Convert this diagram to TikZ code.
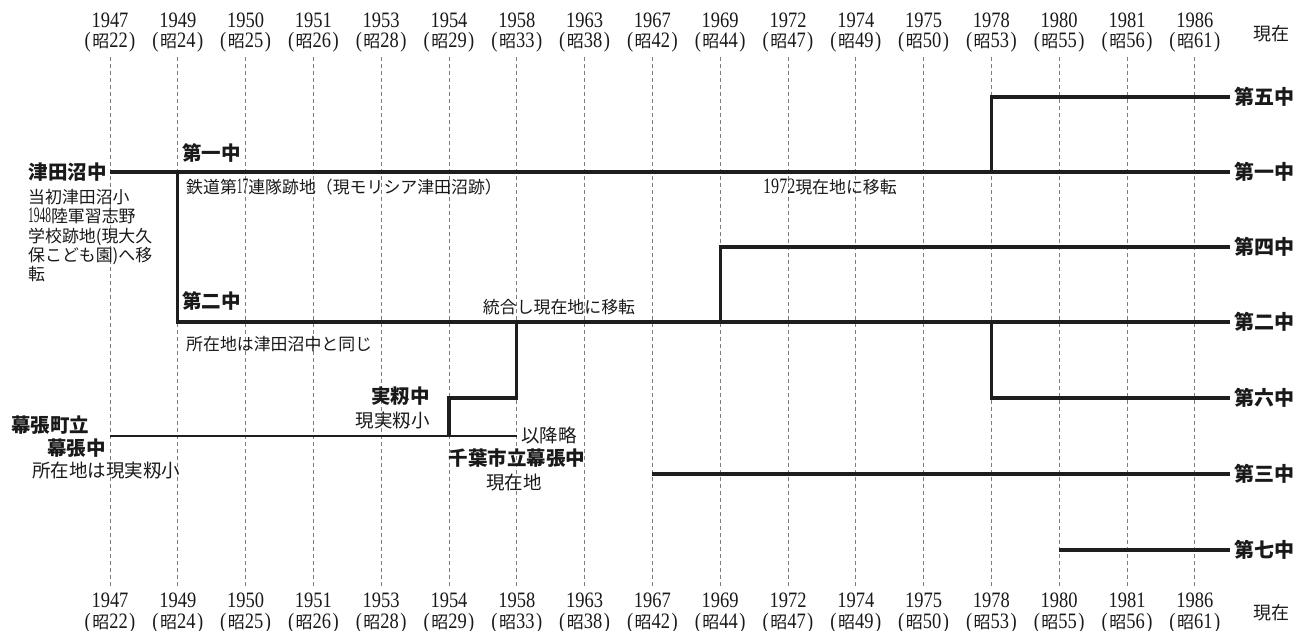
\documentclass[tikz,border=0pt]{standalone}
\usepackage{fontspec}
\setmainfont{Noto Sans CJK JP}
\newfontfamily\yrf{Liberation Serif}[FakeStretch=0.84]
\newfontfamily\nf{Liberation Serif}[FakeStretch=0.73]
\newfontfamily\nfc{Liberation Serif}[FakeStretch=0.52]
\definecolor{linec}{RGB}{30,30,30}
\definecolor{txtc}{RGB}{25,25,25}
\definecolor{gridc}{RGB}{125,125,125}
\newcommand{\mysho}[1]{{\yrf(}\hspace{1.5pt}{\rmfamily\fontsize{17}{16}\selectfont 昭}{\yrf #1}\hspace{1.5pt}{\yrf)}}
\newcommand{\mydg}[1]{{\nf\fontsize{22}{17}\selectfont #1}}
\newcommand{\mydgc}[1]{{\nfc\fontsize{22}{17}\selectfont #1}}
\tikzset{
  lk/.style={line width=3.2pt, draw=linec},
  lkthin/.style={line width=2.4pt, draw=linec},
  gridl/.style={draw=gridc, line width=0.7pt, dash pattern=on 4pt off 3pt},
  bl/.style={font=\fontsize{19.5}{20}\selectfont\bfseries, text=txtc, inner sep=0pt},
  rl/.style={font=\fontsize{20}{20}\selectfont\bfseries, text=txtc, anchor=west, inner xsep=4pt, inner ysep=0pt},
  sm/.style={font=\fontsize{16.9}{19.3}\selectfont, text=txtc, inner sep=0pt},
  md/.style={font=\fontsize{18.5}{18.5}\selectfont, text=txtc, inner sep=0pt},
  yr/.style={font=\yrf\fontsize{22}{22}\selectfont, text=txtc, inner sep=0pt},
  now/.style={font=\fontsize{18}{18}\selectfont, text=txtc, inner sep=0pt},
}
\begin{document}
\begin{tikzpicture}[x=1pt,y=-1pt]
\fill[white] (0,0) rectangle (1311,630);
\useasboundingbox (0,0) rectangle (1311,630);

% grid
\foreach \i in {1,...,17}{
  \draw[gridl] ({110+(\i-1)*67.8},57) -- ({110+(\i-1)*67.8},588);
}

% year headers
\foreach \yy/\sh [count=\i] in {1947/22,1949/24,1950/25,1951/26,1953/28,1954/29,1958/33,1963/38,1967/42,1969/44,1972/47,1974/49,1975/50,1978/53,1980/55,1981/56,1986/61}{
  \node[yr] (ty\i) at ({110+(\i-1)*67.8},20.5) {\yy};
  \node[yr] (tz\i) at ({110+(\i-1)*67.8},42) {\mysho{\sh}};
  \node[yr] (by\i) at ({110+(\i-1)*67.8},600.5) {\yy};
  \node[yr] (bz\i) at ({110+(\i-1)*67.8},623) {\mysho{\sh}};
}
\node[now] (nowt) at (1271,34) {現在};
\node[now] (nowb) at (1271,613) {現在};

% right labels
\node[rl] (r5) at (1230,97) {第五中};
\node[rl] (r1) at (1230,172) {第一中};
\node[rl] (r4) at (1230,247) {第四中};
\node[rl] (r2) at (1230,322) {第二中};
\node[rl] (r6) at (1230,398) {第六中};
\node[rl] (r3) at (1230,474) {第三中};
\node[rl] (r7) at (1230,550) {第七中};

% left label
\node[bl, anchor=east, inner xsep=3pt] (tsuda) at (110,172) {津田沼中};

% junction coordinates
\coordinate (a49) at (177.8,172);
\coordinate (b49) at (177.8,322);
\coordinate (a78) at (991.4,172);
\coordinate (c78) at (991.4,97);
\coordinate (b69) at (720.2,322);
\coordinate (c69) at (720.2,247);
\coordinate (b78) at (991.4,322);
\coordinate (d78) at (991.4,398);
\coordinate (s67) at (652.4,474);
\coordinate (s80) at (1059.2,550);
\coordinate (mk0) at (110,436);
\coordinate (mkend) at (516.8,436);
\coordinate (m54) at (449,436);
\coordinate (n54) at (449,398);
\coordinate (n58) at (516.8,398);
\coordinate (b58) at (516.8,322);

% connectors
\draw[lk] (tsuda.east) -- (r1.west);
\draw[lk] (a49) -- (b49) -- (r2.west);
\draw[lk] (a78) -- (c78) -- (r5.west);
\draw[lk] (b69) -- (c69) -- (r4.west);
\draw[lk] (b78) -- (d78) -- (r6.west);
\draw[lk] (s67) -- (r3.west);
\draw[lk] (s80) -- (r7.west);
\draw[lkthin] (mk0) -- (mkend);
\draw[lk] (m54) -- (n54) -- (n58) -- (b58);

% annotations
\node[sm, anchor=north west, align=left] (tsnote) at (28,189) {当初津田沼小\\
\hbox to 100pt{\mydgc{1948}陸\hfill 軍\hfill 習\hfill 志\hfill 野}\\
学校跡地(現大久\\
\hbox to 100pt{保\hfill こ\hfill ど\hfill も\hfill 園)へ移}\\
転};
\node[bl, anchor=west] (d1L) at (182,153) {第一中};
\node[sm, anchor=west] (tetsu) at (186,187.5) {鉄道第\mydgc{17}連隊跡地（現モリシア津田沼跡）};
\node[sm, anchor=west] (m72) at (763,186.5) {\mydg{1972}現在地に移転};
\node[bl, anchor=west] (d2L) at (182,301) {第二中};
\node[sm, anchor=west] (same) at (186,344) {所在地は津田沼中と同じ};
\node[sm] (togo) at (559,307) {統合し現在地に移転};
\node[bl, anchor=east] (mimi) at (430,396) {実籾中};
\node[md, anchor=east] (mimisho) at (430,421) {現実籾小};
\node[bl, anchor=west] (mk1) at (11,425) {幕張町立};
\node[bl, anchor=east] (mk2) at (106,448) {幕張中};
\node[md, anchor=west] (mk3) at (32,471) {所在地は現実籾小};
\node[md, anchor=west] (ikou) at (521,435) {以降略};
\node[bl] (chiba) at (517,458) {千葉市立幕張中};
\node[md] (genzai) at (514,483) {現在地};
\end{tikzpicture}
\end{document}
